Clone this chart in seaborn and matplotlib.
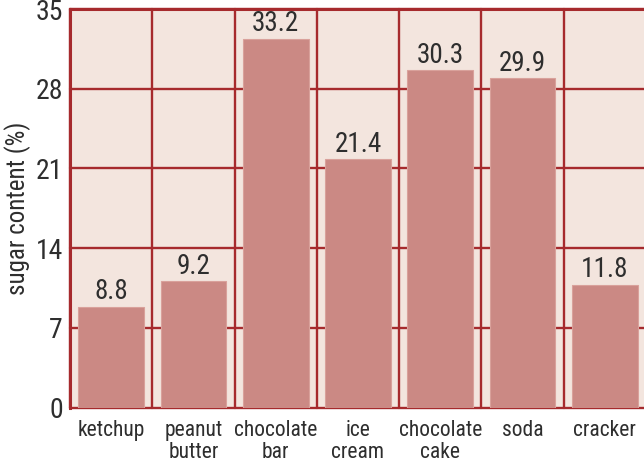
import matplotlib
matplotlib.use("Agg")
import matplotlib.pyplot as plt
import seaborn as sns
import numpy as np

categories = ["ketchup", "peanut\nbutter", "chocolate\nbar", "ice\ncream",
              "chocolate\ncake", "soda", "cracker"]
bar_heights = [8.85, 11.1, 32.4, 21.8, 29.6, 28.9, 10.8]
value_labels = ["8.8", "9.2", "33.2", "21.4", "30.3", "29.9", "11.8"]
y_ticks = [0, 7, 14, 21, 28, 35]

BG = "#f3e5de"
BAR = "#cb8984"
GRID = "#a62a2d"
TXT = "#2e2e2e"
FONT = ["Roboto Condensed", "DejaVu Sans"]

sns.set_style("white")
plt.rcParams["font.family"] = FONT

fig = plt.figure(figsize=(6.44, 4.67), dpi=100)
ax = fig.add_axes([70 / 644, (467 - 407.5) / 467, 576 / 644, 398.5 / 467])
ax.set_facecolor(BG)

sns.barplot(x=categories, y=bar_heights, color=BAR, saturation=1, width=0.8,
            edgecolor="#d9a19b", linewidth=0.8, ax=ax)

ax.set_xlim(-0.5, len(categories) - 0.5)
ax.set_ylim(0, 35)
ax.set_yticks(y_ticks)
ax.set_xticks(np.arange(len(categories)))
ax.set_xticks(np.arange(len(categories) + 1) - 0.5, minor=True)
ax.set_axisbelow(True)
ax.grid(axis="y", which="major", color=GRID, linewidth=1.7)
ax.grid(axis="x", which="minor", color=GRID, linewidth=1.7)
ax.grid(axis="x", which="major", visible=False)
for gl in ax.yaxis.get_gridlines():
    gl.set_clip_on(False)
for t in ax.xaxis.get_minor_ticks():
    t.gridline.set_clip_on(False)

for s in ["right", "bottom"]:
    ax.spines[s].set_visible(False)
for s in ["left", "top"]:
    ax.spines[s].set_color(GRID)
    ax.spines[s].set_linewidth(2.2)

ax.tick_params(axis="both", which="both", length=0)
ax.tick_params(axis="y", pad=5, labelsize=20, labelcolor=TXT)
ax.tick_params(axis="x", pad=9, labelsize=15.5, labelcolor=TXT)
for lab in ax.get_xticklabels():
    lab.set_linespacing(1.05)

ax.set_ylabel("sugar content (%)", fontsize=18, color=TXT, labelpad=3)
ax.set_xlabel("")

for i, (h, t) in enumerate(zip(bar_heights, value_labels)):
    ax.annotate(t, (i, h), xytext=(0, 1), textcoords="offset points",
                ha="center", va="bottom", fontsize=19.5, color=TXT)

fig.savefig("out.png", dpi=100, facecolor="white")
